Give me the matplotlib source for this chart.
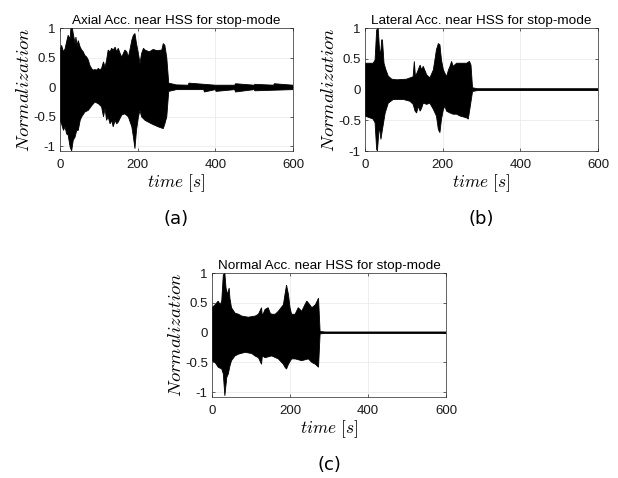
import matplotlib
matplotlib.use('Agg')
import matplotlib.pyplot as plt
import numpy as np

plt.rcParams['mathtext.fontset'] = 'cm'
plt.rcParams['axes.unicode_minus'] = False
plt.rcParams['font.family'] = 'Liberation Sans'

# envelopes of the acceleration records (time in s)
# (a) axial
ta_up = [0, 4, 9, 13, 17, 21, 26, 28, 32, 34, 39, 41, 44, 47, 52, 56, 60, 64, 69, 73, 77, 82, 86, 90,
         94, 99, 103, 107, 112, 116, 120, 124, 129, 133, 137, 142, 146, 150, 155, 159, 163, 167, 172,
         176, 180, 185, 189, 193, 197, 202, 206, 210, 215, 219, 230, 240, 250, 262, 266, 270, 275, 280,
         300, 330, 332, 400, 450, 452, 500, 502, 550, 552, 600]
a_up = [0.63, 0.71, 0.6, 0.65, 0.77, 0.88, 0.82, 1.0, 1.0, 0.91, 0.74, 0.85, 0.71, 0.79, 0.68, 0.63,
        0.6, 0.54, 0.51, 0.46, 0.37, 0.31, 0.29, 0.3, 0.29, 0.32, 0.29, 0.32, 0.43, 0.34, 0.46, 0.63,
        0.6, 0.66, 0.63, 0.68, 0.6, 0.66, 0.57, 0.51, 0.57, 0.63, 0.6, 0.51, 0.63, 0.8, 0.88, 0.91, 0.74,
        0.57, 0.4, 0.57, 0.66, 0.63, 0.6, 0.64, 0.62, 0.63, 0.74, 0.71, 0.5, 0.07, 0.04, 0.035, 0.07,
        0.035, 0.035, 0.06, 0.035, 0.05, 0.035, 0.06, 0.035]
ta_lo = [0, 4, 9, 13, 17, 21, 26, 30, 34, 39, 43, 47, 52, 56, 64, 73, 82, 90, 99, 107, 112, 116, 120,
         124, 129, 133, 137, 142, 146, 150, 159, 167, 176, 185, 189, 193, 197, 202, 206, 210, 219, 236,
         253, 266, 270, 275, 280, 300, 370, 372, 400, 402, 450, 452, 500, 502, 600]
a_lo = [-0.56, -0.62, -0.73, -0.67, -0.79, -0.81, -1.01, -1.08, -0.9, -0.84, -0.73, -0.73, -0.56,
        -0.5, -0.42, -0.39, -0.31, -0.25, -0.28, -0.33, -0.5, -0.36, -0.56, -0.5, -0.62, -0.56, -0.67,
        -0.56, -0.62, -0.59, -0.47, -0.45, -0.5, -0.67, -0.84, -1.04, -0.73, -0.5, -0.39, -0.5, -0.56,
        -0.62, -0.67, -0.7, -0.62, -0.5, -0.07, -0.04, -0.04, -0.08, -0.04, -0.07, -0.04, -0.08, -0.04,
        -0.06, -0.04]

# (b) lateral
tb_up = [0, 21, 26, 30, 34, 37, 40, 43, 45, 49, 54, 60, 69, 82, 107, 124, 127, 130, 137, 142, 146,
         150, 159, 167, 176, 180, 184, 189, 193, 197, 202, 210, 215, 219, 223, 227, 236, 245, 262, 269,
         273, 277, 290, 600]
b_up = [0.43, 0.43, 0.48, 0.97, 1.0, 0.7, 0.54, 0.81, 0.81, 0.43, 0.32, 0.22, 0.17, 0.16, 0.17, 0.21,
        0.46, 0.21, 0.32, 0.4, 0.32, 0.38, 0.24, 0.19, 0.32, 0.48, 0.65, 0.75, 0.73, 0.48, 0.32, 0.21,
        0.32, 0.38, 0.46, 0.38, 0.43, 0.43, 0.43, 0.46, 0.4, 0.03, 0.015, 0.015]
tb_lo = [0, 13, 21, 26, 30, 32, 37, 41, 45, 52, 60, 73, 99, 116, 124, 129, 133, 137, 142, 146, 150,
         159, 167, 176, 184, 189, 193, 197, 202, 206, 210, 219, 227, 236, 245, 262, 266, 270, 277, 290,
         600]
b_lo = [-0.43, -0.46, -0.48, -0.54, -0.97, -1.0, -0.59, -0.81, -0.65, -0.38, -0.22, -0.16, -0.16,
        -0.19, -0.24, -0.35, -0.38, -0.27, -0.35, -0.3, -0.22, -0.24, -0.22, -0.32, -0.43, -0.65,
        -0.7, -0.48, -0.32, -0.27, -0.35, -0.38, -0.4, -0.4, -0.43, -0.46, -0.48, -0.32, -0.03, -0.015,
        -0.015]

# (c) normal
tc_up = [0, 8, 16, 21, 25, 29, 33, 36, 40, 44, 46, 50, 59, 68, 76, 93, 111, 119, 127, 129, 136, 144,
         149, 153, 162, 170, 183, 187, 191, 196, 200, 204, 213, 221, 230, 238, 243, 247, 256, 265, 273,
         277, 290, 600]
c_up = [0.42, 0.47, 0.53, 0.47, 0.53, 0.97, 1.0, 0.75, 0.64, 0.75, 0.58, 0.42, 0.33, 0.31, 0.28, 0.26,
        0.28, 0.31, 0.42, 0.28, 0.39, 0.42, 0.33, 0.31, 0.31, 0.36, 0.47, 0.64, 0.8, 0.64, 0.42, 0.31,
        0.31, 0.42, 0.36, 0.47, 0.53, 0.5, 0.42, 0.47, 0.58, 0.02, 0.012, 0.012]
tc_lo = [0, 8, 16, 25, 29, 33, 38, 42, 46, 50, 59, 68, 85, 102, 110, 119, 127, 129, 136, 153, 170,
         183, 187, 191, 196, 204, 213, 230, 247, 256, 265, 273, 277, 290, 600]
c_lo = [-0.47, -0.5, -0.58, -0.61, -0.69, -1.06, -0.75, -0.69, -0.56, -0.47, -0.39, -0.36, -0.33,
        -0.35, -0.39, -0.42, -0.53, -0.39, -0.42, -0.39, -0.44, -0.53, -0.58, -0.61, -0.53, -0.44,
        -0.44, -0.47, -0.44, -0.5, -0.53, -0.58, -0.02, -0.012, -0.012]

titles = ['Axial Acc. near HSS for stop-mode',
          'Lateral Acc. near HSS for stop-mode',
          'Normal Acc. near HSS for stop-mode']
tags = ['(a)', '(b)', '(c)']
ylims = [(-1.08, 1), (-1, 1), (-1.08, 1)]
yticks = [-1, -0.5, 0, 0.5, 1]
yticklabels = ['-1', '-0.5', '0', '0.5', '1']
xticks = [0, 200, 400, 600]

fig = plt.figure(figsize=(6.18, 4.78), dpi=100)
boxes = [[0.0971, 0.684, 0.377, 0.257],
         [0.5906, 0.684, 0.377, 0.257],
         [0.343, 0.1695, 0.379, 0.259]]
series = [(ta_up, a_up, ta_lo, a_lo), (tb_up, b_up, tb_lo, b_lo), (tc_up, c_up, tc_lo, c_lo)]

for i in range(3):
    ax = fig.add_axes(boxes[i])
    tu, up, tl, lo = series[i]
    xs = np.concatenate([tu, tl[::-1]])
    ys = np.concatenate([up, lo[::-1]])
    ax.fill(xs, ys, facecolor='black', edgecolor='black', lw=0.6)
    ax.set_xlim(0, 600)
    ax.set_ylim(*ylims[i])
    ax.set_xticks(xticks)
    ax.set_yticks(yticks)
    ax.set_yticklabels(yticklabels)
    ax.grid(True, color='#ebebeb', lw=0.6)
    ax.set_axisbelow(True)
    ax.tick_params(direction='in', top=True, right=True, length=2.5, width=0.5,
                   labelsize=9.5, colors='#262626')
    ax.tick_params(axis='x', pad=5.5)
    ax.tick_params(axis='y', pad=3)
    ax.tick_params(labelcolor='#1a1a1a')
    for s in ax.spines.values():
        s.set_linewidth(0.5)
        s.set_color('#262626')
    ax.set_title(titles[i], fontsize=9.7, pad=3)
    ax.set_ylabel('$Normalization$', fontsize=13.5, labelpad=0)
    ax.set_xlabel('$time\\ [s]$', fontsize=12.5, labelpad=1)
    ax.text(0.5, -0.55, tags[i], transform=ax.transAxes, ha='center', va='center',
            fontsize=13, family='DejaVu Sans')

fig.savefig('out.png', dpi=100)
